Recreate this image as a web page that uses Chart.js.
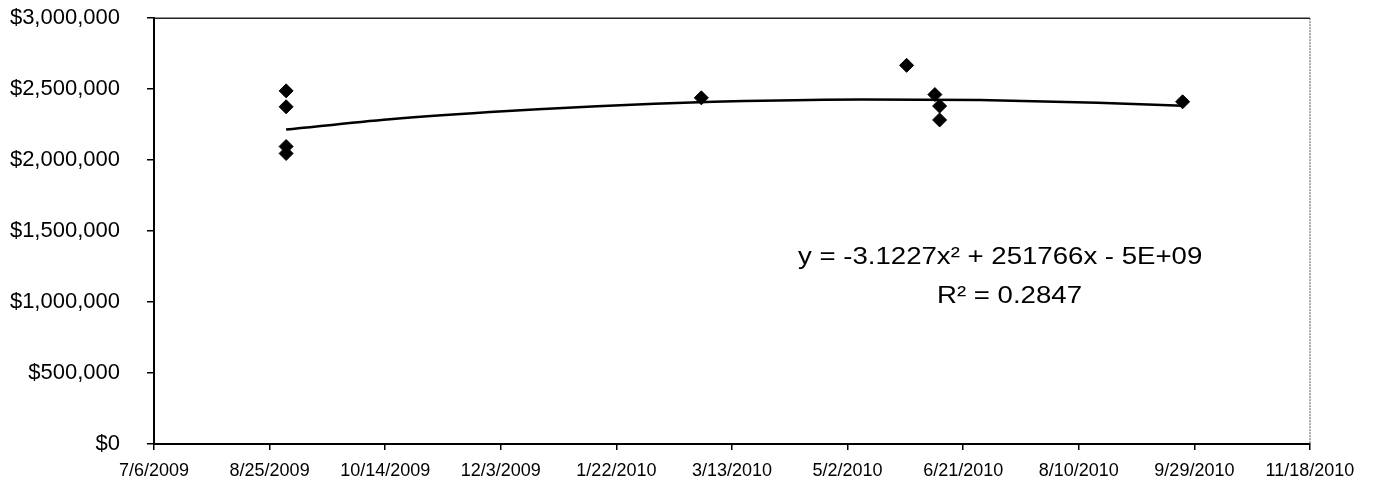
<!DOCTYPE html>
<html>
<head>
<meta charset="utf-8">
<title>Sales scatter with trendline</title>
<script src="https://cdn.jsdelivr.net/npm/chart.js@4.4.1/dist/chart.umd.min.js"></script>
<style>
  html, body { margin: 0; padding: 0; background: #fff; overflow: hidden; }
  /* chart.js leaves a gap above the plot; pull the canvas up to close it */
  canvas { display: block; margin-top: -22px; }
</style>
</head>
<body>
<canvas id="chart" width="1373" height="507"></canvas>
<script>
// ── Data (x = Excel date serial, 40000 = 7/6/2009) ──────────
const xTickLabels = ['7/6/2009', '8/25/2009', '10/14/2009', '12/3/2009', '1/22/2010',
  '3/13/2010', '5/2/2010', '6/21/2010', '8/10/2010', '9/29/2010', '11/18/2010'];

const saleDates  = [40056, 40056, 40056, 40056, 40232, 40319, 40331, 40333, 40333, 40436];
const saleValues = [2488000, 2376000, 2096000, 2047000, 2439000, 2668000, 2462000, 2381000, 2283000, 2411000];

const trendDates  = [40056, 40100, 40150, 40200, 40250, 40300, 40350, 40400, 40436];
const trendValues = [2215000, 2288000, 2346000, 2389000, 2416000, 2428000, 2423000, 2404000, 2383000];

const equationText = 'y = -3.1227x² + 251766x - 5E+09';
const r2Text       = 'R² = 0.2847';

const FONT = '"Liberation Sans", Arial, sans-serif';
const SHIFT = 22; // matches the css margin-top

// frame on top/right + trendline label
const framePlugin = {
  id: 'frame',
  afterDraw(chart) {
    const { ctx, chartArea: a } = chart;
    ctx.save();
    ctx.strokeStyle = '#222';
    ctx.lineWidth = 1.5;
    ctx.beginPath();
    ctx.moveTo(a.left, a.top);
    ctx.lineTo(a.right, a.top);
    ctx.stroke();
    ctx.strokeStyle = '#555';
    ctx.lineWidth = 1;
    ctx.setLineDash([2, 1]);
    ctx.beginPath();
    ctx.moveTo(a.right, a.top);
    ctx.lineTo(a.right, a.bottom);
    ctx.stroke();
    ctx.setLineDash([]);

    // label text is a bit wide in the scan, stretch it slightly
    ctx.fillStyle = '#000';
    ctx.font = '24px ' + FONT;
    ctx.textBaseline = 'alphabetic';
    ctx.textAlign = 'left';
    ctx.save();
    ctx.translate(798, 264 + SHIFT);
    ctx.scale(1.15, 1);
    ctx.fillText(equationText, 0, 0);
    ctx.restore();
    ctx.save();
    ctx.translate(937, 303 + SHIFT);
    ctx.scale(1.15, 1);
    ctx.fillText(r2Text, 0, 0);
    ctx.restore();
    ctx.restore();
  }
};

new Chart(document.getElementById('chart'), {
  type: 'scatter',
  data: {
    datasets: [
      {
        label: 'Sales',
        data: saleDates.map((d, i) => ({ x: d, y: saleValues[i] })),
        pointStyle: 'rectRot',
        pointRadius: 7,
        backgroundColor: '#000',
        borderColor: '#000',
        borderWidth: 1,
      },
      {
        label: 'Poly. (Sales)',
        type: 'line',
        data: trendDates.map((d, i) => ({ x: d, y: trendValues[i] })),
        borderColor: '#000',
        borderWidth: 2.5,
        pointRadius: 0,
        cubicInterpolationMode: 'monotone',
        fill: false,
      }
    ]
  },
  options: {
    responsive: false,
    animation: false,
    layout: { padding: { left: 0, right: 63, top: 16, bottom: 0 } },
    plugins: {
      legend: { display: false },
      tooltip: { enabled: false },
    },
    scales: {
      x: {
        type: 'linear',
        min: 40000,
        max: 40490,
        ticks: {
          stepSize: 49,
          color: '#000',
          font: { family: FONT, size: 18 },
          padding: 10,
          maxRotation: 0,
          autoSkip: false,
          callback: (v, i) => xTickLabels[i],
        },
        grid: { drawOnChartArea: false, drawTicks: true, tickLength: 6, color: '#000', lineWidth: 1.5 },
        border: { color: '#000', width: 2 },
        afterFit: s => { s.height = 41; },
      },
      y: {
        min: 0,
        max: 3000000,
        ticks: {
          stepSize: 500000,
          color: '#000',
          font: { family: FONT, size: 22 },
          padding: 27,
          callback: v => '$' + v.toLocaleString('en-US'),
        },
        grid: { drawOnChartArea: false, drawTicks: true, tickLength: 7, color: '#000', lineWidth: 1.5 },
        border: { color: '#000', width: 2 },
        afterFit: s => { s.width = 154; },
      }
    }
  },
  plugins: [framePlugin]
});
</script>
</body>
</html>
